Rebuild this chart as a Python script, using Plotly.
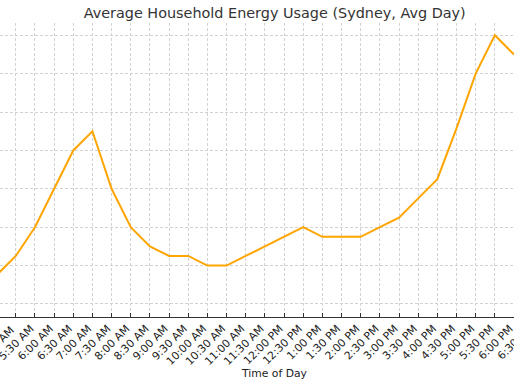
import plotly.graph_objects as go

times = ["5:00 AM", "5:30 AM", "6:00 AM", "6:30 AM", "7:00 AM", "7:30 AM", "8:00 AM",
         "8:30 AM", "9:00 AM", "9:30 AM", "10:00 AM", "10:30 AM", "11:00 AM", "11:30 AM",
         "12:00 PM", "12:30 PM", "1:00 PM", "1:30 PM", "2:00 PM", "2:30 PM", "3:00 PM",
         "3:30 PM", "4:00 PM", "4:30 PM", "5:00 PM", "5:30 PM", "6:00 PM", "6:30 PM"]
usage_kwh = [0.35, 0.45, 0.6, 0.8, 1.0, 1.1, 0.8,
             0.6, 0.5, 0.45, 0.45, 0.4, 0.4, 0.45,
             0.5, 0.55, 0.6, 0.55, 0.55, 0.55, 0.6,
             0.65, 0.75, 0.85, 1.115, 1.4, 1.6, 1.5]
y_grid = [0.2, 0.4, 0.6, 0.8, 1.0, 1.2, 1.4, 1.6]

idx = list(range(len(times)))

fig = go.Figure()
fig.add_trace(go.Scatter(x=idx, y=usage_kwh, mode="lines",
                         line=dict(color="#FFA500", width=2), showlegend=False))

fig.update_layout(
    width=514, height=386,
    margin=dict(l=0, r=0, t=23, b=69, autoexpand=False),
    paper_bgcolor="white", plot_bgcolor="white",
    font=dict(family="DejaVu Sans", color="#222222"),
    title=dict(text="Average Household Energy Usage (Sydney, Avg Day)",
               x=274.7 / 514, xref="paper", xanchor="center",
               y=1 - 13 / 386, yref="container", yanchor="middle",
               font=dict(size=14.4, color="#333333", family="DejaVu Sans")),
    xaxis=dict(range=[0.177, 27.0], tickmode="array", tickvals=idx, ticktext=times,
               tickangle=-45, tickfont=dict(size=10.8, color="#222222"),
               ticklabelshift=15, ticklabeloverflow="allow", automargin=False,
               showgrid=True, gridcolor="#d2d2d2", gridwidth=0.8, griddash="3px,2px",
               showline=True, linecolor="#333333", linewidth=1.2,
               ticks="inside", ticklen=4, tickcolor="#333333", tickwidth=1,
               zeroline=False),
    yaxis=dict(range=[0.132, 1.664], tickmode="array", tickvals=y_grid, automargin=False,
               showticklabels=False, showgrid=True, gridcolor="#d2d2d2", gridwidth=0.8,
               griddash="3px,2px", zeroline=False, showline=False, ticks=""),
)

fig.add_annotation(text=times[0], xref="paper", yref="paper",
                   x=-3.4 / 514, y=-5 / 294, xanchor="center", yanchor="top",
                   textangle=-45, showarrow=False,
                   font=dict(size=10.8, color="#222222", family="DejaVu Sans"))
fig.add_annotation(text="Time of Day", xref="paper", yref="paper",
                   x=274.7 / 514, y=-56 / 294, xanchor="center", yanchor="middle",
                   showarrow=False, font=dict(size=10.8, color="#222222", family="DejaVu Sans"))

fig.write_html("out.html", config={"displayModeBar": False},
               post_script="document.body.style.margin='0';document.body.style.overflow='hidden';")
